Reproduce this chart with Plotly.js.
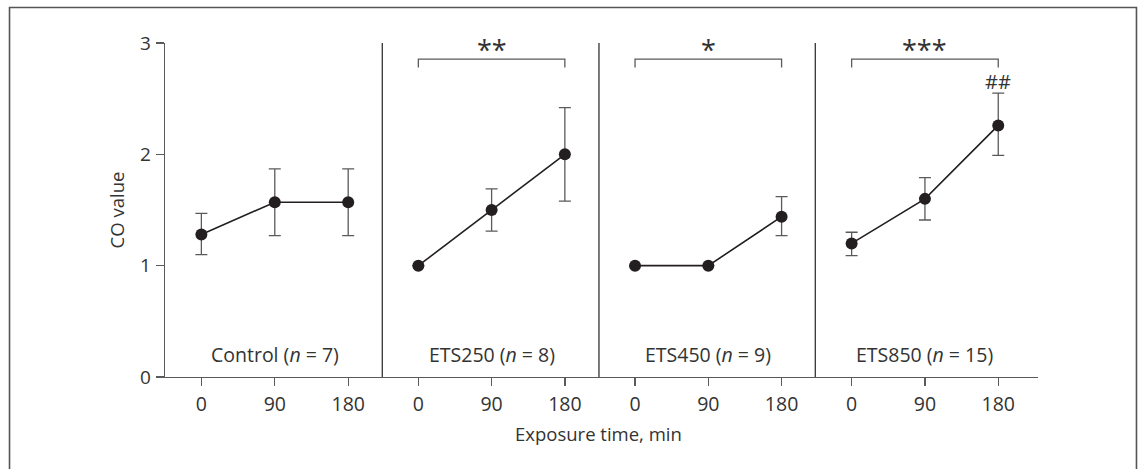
<!DOCTYPE html>
<html>
<head>
<meta charset="utf-8">
<script src="https://cdn.plot.ly/plotly-3.0.1.min.js"></script>
<style>html,body{margin:0;padding:0;background:#fff;}#chart{width:1140px;height:469px;}</style>
</head>
<body>
<div id="chart"></div>
<script>
// ---- data ----
const times = [0, 90, 180];
const groups = ["Control", "ETS250", "ETS450", "ETS850"];
const groupN = [7, 8, 9, 15];
const controlMean = [1.28, 1.57, 1.57];
const controlUpper = [1.47, 1.87, 1.87];
const controlLower = [1.10, 1.27, 1.27];
const ets250Mean = [1.00, 1.50, 2.00];
const ets250Upper = [1.00, 1.69, 2.42];
const ets250Lower = [1.00, 1.31, 1.58];
const ets450Mean = [1.00, 1.00, 1.44];
const ets450Upper = [1.00, 1.00, 1.62];
const ets450Lower = [1.00, 1.00, 1.27];
const ets850Mean = [1.20, 1.60, 2.26];
const ets850Upper = [1.30, 1.79, 2.55];
const ets850Lower = [1.09, 1.41, 1.99];
const significance = ["", "**", "*", "***"];
const extraMark = ["", "", "", "##"];
const yTicks = [0, 1, 2, 3];

const means = [controlMean, ets250Mean, ets450Mean, ets850Mean];
const uppers = [controlUpper, ets250Upper, ets450Upper, ets850Upper];
const lowers = [controlLower, ets250Lower, ets450Lower, ets850Lower];

const FONT = "Open Sans";
const TXT = "#333";
const AX = "#5a5a5a";
const axIds = ["x", "x2", "x3", "x4"];
const domains = [[0, 0.2489], [0.2489, 0.4971], [0.4971, 0.7449], [0.7449, 1]];
const ranges = [[-44.6, 221.8], [-44.3, 221.9], [-44.3, 221.4], [-44.6, 228.8]];

const traces = groups.map((g, i) => ({
  type: "scatter", mode: "lines+markers",
  x: times, y: means[i],
  xaxis: axIds[i], yaxis: "y",
  line: {color: "#231f20", width: 1.6},
  marker: {color: "#231f20", size: 12},
  error_y: {
    type: "data", symmetric: false,
    array: uppers[i].map((u, k) => u - means[i][k]),
    arrayminus: means[i].map((m, k) => m - lowers[i][k]),
    color: AX, thickness: 1.3, width: 6
  },
  showlegend: false, hoverinfo: "none"
}));

const layout = {
  width: 1140, height: 469,
  margin: {l: 165, r: 102, t: 43, b: 92},
  paper_bgcolor: "#fff", plot_bgcolor: "#fff",
  font: {family: FONT, size: 19, color: TXT},
  yaxis: {
    range: [0, 3], tickvals: yTicks, ticks: "outside", ticklen: 8,
    tickcolor: AX, tickwidth: 1.3, showline: true, linecolor: AX, linewidth: 1.3,
    showgrid: false, zeroline: false, anchor: "x",
    tickfont: {size: 19, color: TXT}, ticklabelstandoff: 1,
    title: {text: "CO value", font: {size: 18.5, color: TXT}, standoff: 10}
  },
  shapes: [], annotations: []
};

axIds.forEach((id, i) => {
  const key = i === 0 ? "xaxis" : "xaxis" + (i + 1);
  layout[key] = {
    domain: domains[i], range: ranges[i], tickvals: times,
    ticks: "outside", ticklen: 8, tickcolor: AX, tickwidth: 1.3,
    showline: true, linecolor: AX, linewidth: 1.3,
    showgrid: false, zeroline: false, anchor: "y",
    tickfont: {size: 19.5, color: TXT}, ticklabelstandoff: 1
  };
  if (i > 0) {
    layout.shapes.push({type: "line", xref: "paper", yref: "y",
      x0: domains[i][0], x1: domains[i][0], y0: 0, y1: 3,
      line: {color: "#333", width: 1.3}});
  }
  layout.annotations.push({xref: id, yref: "y", x: 90, y: 0.2,
    text: groups[i] + " (<i>n</i> = " + groupN[i] + ")", showarrow: false,
    font: {size: 19.5, color: TXT}, yanchor: "middle"});
  if (significance[i]) {
    layout.shapes.push({type: "path", xref: id, yref: "y",
      path: "M " + times[0] + " 2.78 L " + times[0] + " 2.855 L " + times[2] + " 2.855 L " + times[2] + " 2.78",
      line: {color: AX, width: 1.3}});
    layout.annotations.push({xref: id, yref: "y", x: 90, y: 2.945,
      text: significance[i], showarrow: false, yanchor: "middle",
      font: {size: 27, color: TXT}});
  }
  if (extraMark[i]) {
    layout.annotations.push({xref: id, yref: "y", x: 180, y: 2.655,
      text: extraMark[i], showarrow: false, yanchor: "middle",
      font: {size: 20, color: TXT}});
  }
});

layout.annotations.push({xref: "paper", yref: "paper", x: 0.4966, y: -0.1677,
  text: "Exposure time, min", showarrow: false, yanchor: "middle",
  font: {size: 18.5, color: TXT}});

layout.shapes.push({type: "rect", xref: "paper", yref: "paper",
  x0: -0.1781, x1: 1.1128, y0: -0.3, y1: 1.1063,
  line: {color: "#555", width: 1.6}});

Plotly.newPlot("chart", traces, layout, {staticPlot: true, displayModeBar: false});
</script>
</body>
</html>
